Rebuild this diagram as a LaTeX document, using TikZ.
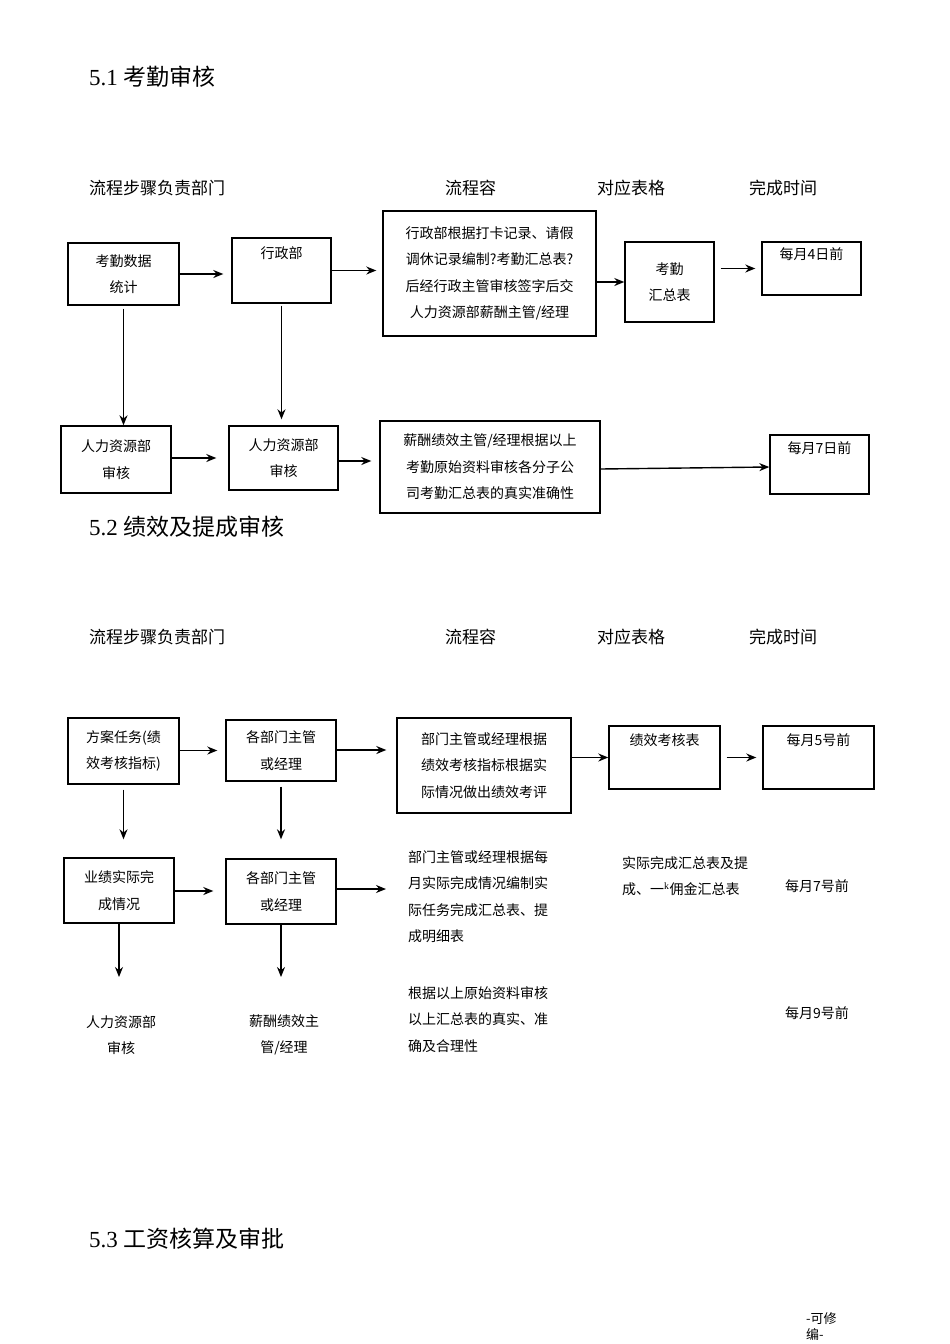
\documentclass[tikz,border=0pt]{standalone}
\usepackage{fontspec}
\setmainfont{Liberation Serif}
\newfontfamily\cjk{Noto Sans CJK SC}
\usetikzlibrary{positioning, arrows.meta}
\tikzset{
  box/.style={draw, line width=1.4pt, align=center, font=\cjk\fontsize{14}{26.5}\selectfont, inner sep=0pt},
  txt/.style={align=left, anchor=north west, font=\cjk\fontsize{14}{26.5}\selectfont, inner sep=0pt},
  head/.style={anchor=west, font=\cjk\fontsize{17}{20}\selectfont, inner sep=0pt},
  title/.style={anchor=west, font=\fontsize{23}{26}\selectfont, inner sep=0pt},
  arr/.style={-{Stealth[length=10pt,width=8pt]}, line width=1.4pt}
}
\newcommand{\boxat}[6]{\node[box, minimum width=#4-#2, minimum height=#5-#3] (#1) at ({(#2+#4)/2},{(#3+#5)/2}) {#6};}
\begin{document}
\begin{tikzpicture}[x=1pt,y=-1pt]
\useasboundingbox (0,0) rectangle (950,1344);
% section 5.1
\node[title] (t1) at (89,77) {5.1 {\cjk 考勤审核}};
\node[head] (h1) at (89,188) {流程步骤负责部门};
\node[head] (h2) at (445,188) {流程容};
\node[head] (h3) at (597,188) {对应表格};
\node[head] (h4) at (749,188) {完成时间};
\boxat{a1}{68}{243}{179}{305}{考勤数据\\统计}
\boxat{a2}{232}{238}{331}{303}{行政部\\[10pt]}
\boxat{a3}{383}{211}{596}{336}{行政部根据打卡记录、请假\\调休记录编制?考勤汇总表?\\后经行政主管审核签字后交\\人力资源部薪酬主管/经理}
\boxat{a4}{625}{242}{714}{322}{考勤\\汇总表}
\boxat{a5}{762}{242}{861}{295}{每月4日前\\[4pt]}
\boxat{b1}{61}{426}{171}{493}{人力资源部\\审核}
\boxat{b2}{229}{426}{338}{490}{人力资源部\\审核}
\boxat{b3}{380}{421}{600}{513}{薪酬绩效主管/经理根据以上\\考勤原始资料审核各分子公\\司考勤汇总表的真实准确性}
\boxat{b4}{770}{435}{869}{494}{每月7日前\\[8pt]}
\draw[arr] (a1.east) -- ([xshift=-8pt]a2.west |- a1.east);
\draw[arr] (a2) -- ([xshift=-6pt]a3.west |- a2);
\draw[arr] (a3.east |- a4) -- (a4);
\draw[arr] ([xshift=6pt]a4.east |- a5) -- ([xshift=-6pt]a5.west |- a5);
\draw[arr] ([yshift=-3pt]a1.south) -- (b1.north -| a1.south);
\draw[arr] ([yshift=-2pt]a2.south) -- ([yshift=6pt]b2.north -| a2.south);
\draw[arr] (b1.east |- b2) -- ([xshift=-12pt]b2.west |- b2);
\draw[arr] (b2.east |- 0,461) -- ([xshift=-8pt]b3.west |- 0,461);
\draw[arr] (b3.east |- 0,469) -- (b4.west |- 0,467);
% section 5.2
\node[title] (t2) at (89,527) {5.2 {\cjk 绩效及提成审核}};
\node[head] (h5) at (89,637) {流程步骤负责部门};
\node[head] (h6) at (445,637) {流程容};
\node[head] (h7) at (597,637) {对应表格};
\node[head] (h8) at (749,637) {完成时间};
\boxat{c1}{68}{718}{179}{784}{方案任务(绩\\效考核指标)}
\boxat{c2}{226}{720}{336}{781}{各部门主管\\或经理}
\boxat{c3}{397}{718}{571}{813}{部门主管或经理根据\\绩效考核指标根据实\\际情况做出绩效考评}
\boxat{c4}{609}{726}{720}{789}{绩效考核表\\[10pt]}
\boxat{c5}{763}{726}{874}{789}{每月5号前\\[10pt]}
\boxat{d1}{64}{858}{174}{923}{业绩实际完\\成情况}
\boxat{d2}{226}{859}{336}{924}{各部门主管\\或经理}
\node[txt] (d3) at (408,850) {部门主管或经理根据每\\月实际完成情况编制实\\际任务完成汇总表、提\\成明细表};
\node[txt] (d4) at (622,856) {实际完成汇总表及提\\成、一$^{\rm k}$佣金汇总表};
\node[txt] (d5) at (785,879) {每月7号前};
\node[box, draw=none] (e1) at (121,1035) {人力资源部\\审核};
\node[box, draw=none] (e2) at (284,1035) {薪酬绩效主\\管/经理};
\node[txt] (e3) at (408,986) {根据以上原始资料审核\\以上汇总表的真实、准\\确及合理性};
\node[txt] (e4) at (785,1006) {每月9号前};
\coordinate (d3in) at (386,889);
\draw[arr] (c1.east |- c2) -- ([xshift=-8pt]c2.west |- c2);
\draw[arr] (c2.east |- 0,750) -- ([xshift=-10pt]c3.west |- 0,750);
\draw[arr] (c3.east |- c4) -- (c4);
\draw[arr] ([xshift=6pt]c4.east |- c5) -- ([xshift=-6pt]c5.west |- c5);
\draw[arr] ([yshift=-5pt]c1.south) -- ([yshift=18pt]d1.north -| c1.south);
\draw[arr] ([yshift=-5pt]c2.south) -- ([yshift=19pt]d2.north -| c2.south);
\draw[arr] (d1.east |- 0,891) -- ([xshift=-12pt]d2.west |- 0,891);
\draw[arr] (d2.east |- d3in) -- (d3in);
\draw[arr] (d1.south) -- (d1.south |- 0,977);
\draw[arr] (d2.south) -- (d2.south |- 0,977);
% section 5.3
\node[title] (t3) at (89,1239) {5.3 {\cjk 工资核算及审批}};
\node[txt, font=\cjk\fontsize{13}{16}\selectfont] (ft) at (806,1312) {-可修\\编-};
\end{tikzpicture}
\end{document}
